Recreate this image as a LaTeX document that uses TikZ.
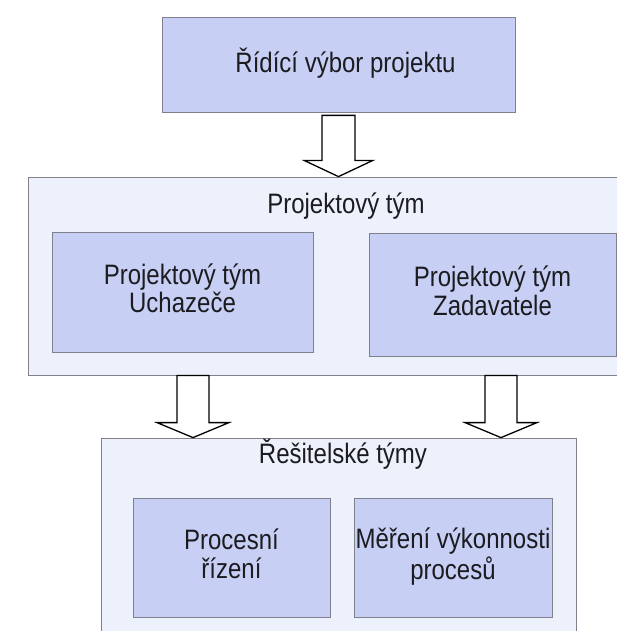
\documentclass[tikz,border=0pt]{standalone}
\usepackage{fontspec}
\setmainfont{Liberation Sans}
\usetikzlibrary{calc}
\definecolor{cardfill}{RGB}{199,207,244}
\definecolor{panelfill}{RGB}{237,241,252}
\definecolor{edgegray}{RGB}{128,128,138}
\definecolor{inkgray}{RGB}{28,28,32}
\tikzset{
  panel/.style={draw=edgegray, fill=panelfill, line width=0.8pt, inner sep=0pt},
  card/.style={draw=edgegray, fill=cardfill, line width=0.8pt, inner sep=0pt, align=center},
  size/.style 2 args={minimum width=#1pt, minimum height=#2pt},
  hollow/.style={draw=black, fill=white, line width=1.3pt, line join=miter},
  title/.style={anchor=base, inner sep=0pt}
}
% tall lettering: lines stacked and stretched upward a little
\newcommand\tall[1]{\scalebox{1}[1.17]{\begin{tabular}{@{}c@{}}#1\end{tabular}}}
% hollow block arrow: start, tip, shaft half-width, head half-width, head length
\newcommand\hollowarrow[5]{%
  \draw[hollow] ($(#1)+(-#3,0)$) -- ($(#1)+(#3,0)$) -- ($(#2)+(#3,-#5)$)
    -- ($(#2)+(#4,-#5)$) -- (#2) -- ($(#2)+(-#4,-#5)$) -- ($(#2)+(-#3,-#5)$) -- cycle;}
\begin{document}
\begin{tikzpicture}[x=1pt, y=-1pt, font=\fontsize{24}{23}\selectfont, text=inkgray]
  \clip (0,0) rectangle (617,631);
  \fill[white] (0,0) rectangle (617,631);

  % outer panels
  \node[panel, size={612}{198}] (team) at (334,276) {};
  \node[panel, size={475}{212}] (solvers) at (338.5,544) {};

  % boxes
  \node[card, size={353}{95}] (board) at (338.5,64.5) {\hspace*{14pt}\tall{Řídící výbor projektu}};
  \node[card, size={261}{120}] (bidder) at (182.5,292) {\tall{Projektový tým\\Uchazeče}};
  \node[card, size={247}{123}] (client) at (492.5,294.5) {\tall{Projektový tým\\Zadavatele}};
  \node[card, size={197}{119}] (process) at (231.5,557.5) {\tall{Procesní\\řízení}};
  \node[card, size={198}{119}] (perf) at (453,557.5) {\tall{Měření výkonnosti\\procesů}};

  % panel titles
  \node[title] (teamtitle) at (346,214) {\tall{Projektový tým}};
  \node[title] (soltitle) at (343,463) {\tall{Řešitelské týmy}};

  % arrows between levels
  \coordinate (a1s) at ($(board.south)+(0,3)$);
  \coordinate (a1e) at (board.south |- team.north);
  \hollowarrow{a1s}{a1e}{16.5}{34}{16}

  \coordinate (a2s) at (193,0 |- team.south);
  \coordinate (a2e) at (a2s |- solvers.north);
  \hollowarrow{a2s}{a2e}{16}{36}{15}

  \coordinate (a3s) at (501,0 |- team.south);
  \coordinate (a3e) at (a3s |- solvers.north);
  \hollowarrow{a3s}{a3e}{16}{36}{15}
\end{tikzpicture}
\end{document}
